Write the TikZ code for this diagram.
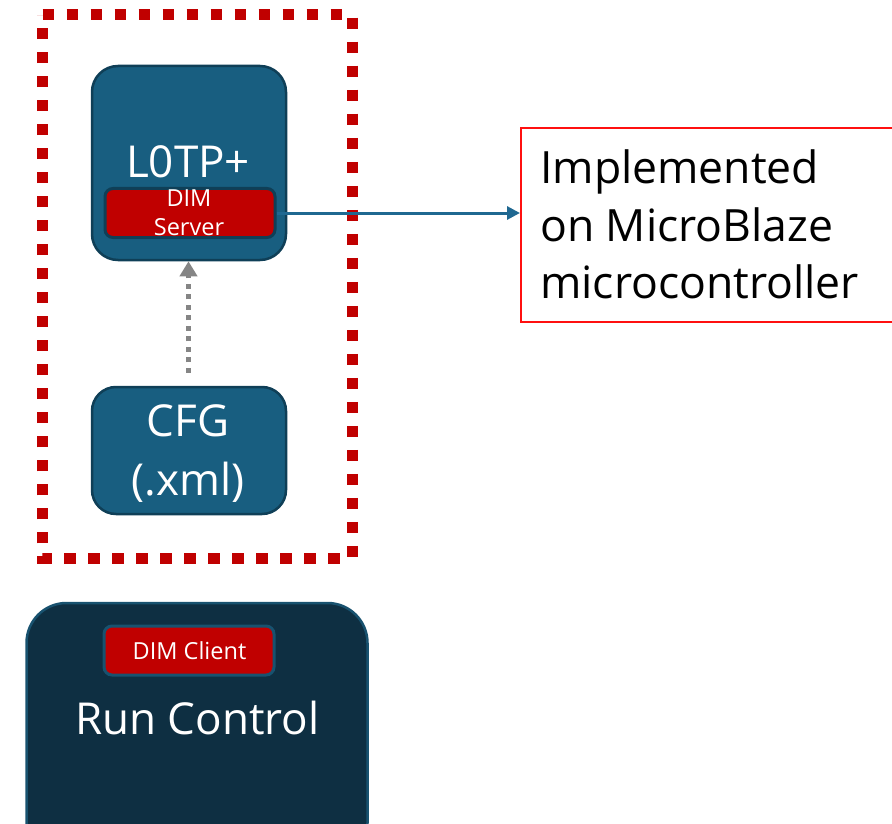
\documentclass[tikz,border=0pt]{standalone}
\usepackage{fontspec}
\setmainfont{Open Sans}
\usetikzlibrary{arrows.meta}

\definecolor{blockfill}{HTML}{185E80}
\definecolor{blockedge}{HTML}{0F3F57}
\definecolor{rcfill}{HTML}{0E2F42}
\definecolor{rcedge}{HTML}{18526F}
\definecolor{dimred}{HTML}{C00000}
\definecolor{linkblue}{HTML}{1F6891}
\definecolor{notered}{HTML}{FF1010}
\definecolor{cfgarrow}{HTML}{858585}

\tikzset{
  block/.style={draw=blockedge, fill=blockfill, line width=2.5pt, rounded corners=26pt,
    inner sep=0pt},
  rcblock/.style={draw=rcedge, fill=rcfill, line width=2.5pt, rounded corners=40pt,
    inner sep=0pt},
  dimtag/.style={fill=dimred, line width=3pt, rounded corners=8pt, inner sep=0pt},
  bigtxt/.style={text=white, font=\fontsize{44}{50}\selectfont, inner sep=0pt, anchor=base},
  smalltxt/.style={text=white, font=\fontsize{23.5}{28}\selectfont, inner sep=0pt, anchor=base},
  notetxt/.style={text=black, font=\fontsize{44.5}{50}\selectfont, inner sep=0pt, anchor=base west},
  zone/.style={draw=dimred, line width=11pt, dash pattern=on 11.5pt off 12.514pt},
}

\begin{document}
\begin{tikzpicture}[x=1pt, y=-1pt]
\useasboundingbox (0,0) rectangle (892,824);
\clip (0,0) rectangle (892,824);

% dotted boundary around the trigger processor side
\draw[zone] (42.5,15) -- (352,15) -- (352,558) -- (42.5,558) -- cycle;

% L0TP+ block with its DIM server
\node[block, minimum width=194pt, minimum height=194pt] (l0tp) at (189,163) {};
\node[bigtxt] (l0tptxt) at (188,178) {L0TP+};
\node[dimtag, draw=blockedge, minimum width=170pt, minimum height=49pt] (dimsrv) at (190,213) {};
\node[smalltxt] (dimsrvtxt1) at (189,206.5) {DIM};
\node[smalltxt] (dimsrvtxt2) at (189,235.5) {Server};

% configuration file
\node[block, minimum width=194pt, minimum height=127pt, rounded corners=24pt] (cfg) at (189,450.5) {};
\node[bigtxt] (cfgtxt1) at (188,436) {CFG};
\node[bigtxt] (cfgtxt2) at (188,495) {(.xml)};

% run control with its DIM client
\node[rcblock, minimum width=341pt, minimum height=260pt] (rc) at (197,733) {};
\node[dimtag, draw=rcedge, minimum width=170pt, minimum height=49pt] (dimcli) at (189,650.5) {};
\node[smalltxt] (dimclitxt) at (189.5,659.5) {DIM Client};
\node[bigtxt] (rctxt) at (197.5,734) {Run Control};

% implementation note
\node[draw=notered, line width=1.5pt, minimum width=400pt, minimum height=194pt,
      anchor=west, inner sep=0pt] (note) at (520,225) {};
\node[notetxt] (note1) at (540,184) {Implemented};
\node[notetxt] (note2) at (540,241) {on MicroBlaze};
\node[notetxt] (note3) at (540,298) {microcontroller};

% connectors
\draw[linkblue, line width=3pt, -{Triangle[length=13pt, width=13pt]}]
  (dimsrv.east) -- (note.west |- dimsrv.east);
\draw[cfgarrow, line width=5pt, dash pattern=on 5pt off 5.5pt,
      -{Triangle[length=15pt, width=17pt]}]
  ([xshift=-0.5pt]cfg.north) ++(0,-13) -- ([xshift=-0.5pt]l0tp.south);
\end{tikzpicture}
\end{document}
